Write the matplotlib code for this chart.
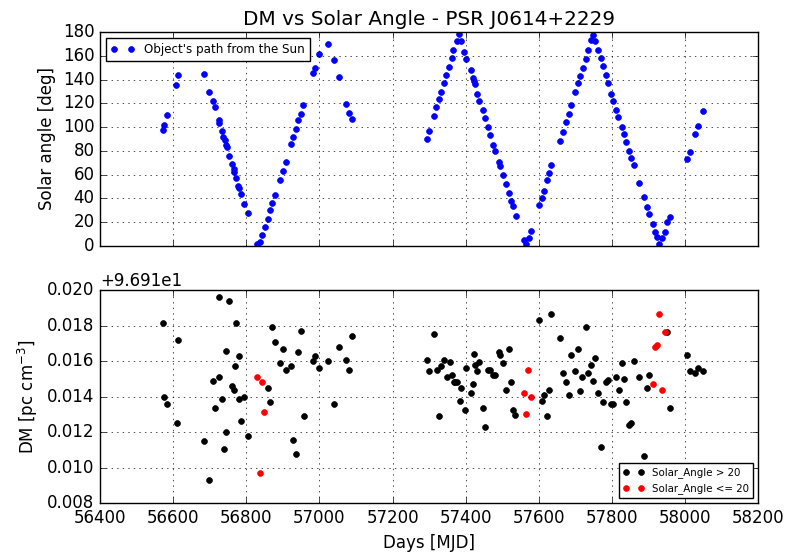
import matplotlib
matplotlib.use("Agg")
import matplotlib.pyplot as plt
from matplotlib.ticker import ScalarFormatter
import numpy as np

# Solar angle of the pulsar at each epoch
mjd_angle = [
    56571.5, 56574.0, 56582.5, 56608.0, 56614.0, 56684.5, 56699.0, 56708.0,
    56713.6, 56724.5, 56725.6, 56734.6, 56737.4, 56741.0, 56745.5, 56747.5,
    56753.8, 56761.2, 56765.8, 56767.5, 56772.0, 56778.4, 56780.3, 56785.8,
    56794.8, 56804.0, 56828.7, 56838.6, 56844.0, 56850.5, 56858.8, 56865.0,
    56870.6, 56879.6, 56893.3, 56900.0, 56908.0, 56921.7, 56928.0, 56937.0,
    56942.6, 56949.0, 56956.3, 56981.7, 56987.3, 56998.3, 57022.7, 57039.0,
    57054.0, 57074.0, 57082.0, 57088.6, 57294.7, 57300.0, 57312.0, 57320.0,
    57326.5, 57333.0, 57341.0, 57346.6, 57355.0, 57362.0, 57366.5, 57375.6,
    57382.0, 57388.4, 57395.8, 57402.0, 57414.0, 57419.5, 57423.0, 57426.0,
    57430.6, 57437.0, 57446.0, 57454.0, 57460.5, 57466.0, 57474.0, 57480.6,
    57489.6, 57494.4, 57500.7, 57510.0, 57518.0, 57523.5, 57529.0, 57537.0,
    57560.0, 57563.6, 57572.0, 57578.0, 57600.0, 57608.0, 57614.8, 57623.0,
    57627.5, 57633.0, 57658.6, 57665.0, 57673.0, 57681.0, 57687.7, 57698.5,
    57706.8, 57713.0, 57719.5, 57727.8, 57734.0, 57742.3, 57748.6, 57754.0,
    57762.5, 57769.0, 57774.4, 57782.7, 57789.0, 57796.0, 57802.5, 57811.8,
    57817.0, 57826.5, 57833.0, 57838.0, 57846.3, 57852.8, 57859.0, 57873.6,
    57888.3, 57896.6, 57902.0, 57911.0, 57916.7, 57923.0, 57928.6, 57937.6,
    57944.0, 57951.0, 57957.7, 58006.0, 58013.0, 58026.8, 58036.0, 58048.0,
]
solar_angle = [
    97.7, 101.6, 110.0, 135.6, 143.7, 144.8, 129.7, 122.2,
    116.6, 106.0, 103.8, 96.8, 91.8, 89.3, 85.1, 82.9,
    75.9, 68.9, 64.8, 61.9, 57.2, 50.5, 48.9, 43.8,
    34.9, 27.9, 1.7, 3.3, 9.2, 15.9, 22.6, 29.9,
    35.7, 42.4, 55.5, 62.8, 70.3, 85.4, 91.8, 98.5,
    105.8, 110.8, 118.3, 145.6, 149.5, 161.8, 170.2, 156.2,
    142.3, 119.7, 111.6, 106.6, 90.1, 96.6, 109.4, 116.6,
    123.8, 129.7, 137.2, 143.7, 150.9, 158.7, 165.2, 172.7,
    178.2, 172.7, 163.5, 157.6, 148.4, 141.4, 139.2, 136.4,
    128.0, 122.2, 114.1, 107.4, 100.2, 93.5, 85.1, 80.1,
    70.9, 66.9, 59.7, 51.9, 44.1, 37.4, 33.2, 25.1,
    4.5, 1.4, 6.2, 12.6, 34.0, 40.0, 46.4, 55.2,
    61.1, 67.8, 88.5, 96.0, 104.1, 110.8, 118.8, 129.7,
    137.2, 142.8, 149.5, 157.7, 165.2, 173.6, 178.0, 172.7,
    165.2, 158.7, 151.8, 143.7, 137.2, 128.0, 122.2, 114.1,
    108.5, 100.2, 94.3, 87.6, 80.1, 73.6, 67.8, 53.1,
    40.8, 32.4, 26.5, 18.4, 11.5, 7.5, 1.2, 6.2,
    11.2, 20.1, 24.3, 72.8, 78.7, 94.3, 101.0, 113.3,
]

# DM measurements with solar angle > 20 deg
mjd_far = [
    56571.5, 56574.0, 56582.5, 56609.8, 56614.0, 56684.5, 56699.0, 56708.0,
    56713.6, 56724.5, 56725.6, 56734.6, 56740.0, 56744.7, 56745.6, 56753.8,
    56760.0, 56765.8, 56768.5, 56772.0, 56779.4, 56780.3, 56786.6, 56794.8,
    56804.0, 56858.8, 56865.0, 56870.6, 56879.6, 56893.3, 56900.0, 56908.0,
    56922.6, 56928.9, 56937.0, 56942.6, 56949.0, 56958.0, 56983.7, 56987.3,
    56998.3, 57022.7, 57039.0, 57054.0, 57074.0, 57082.0, 57088.6, 57294.7,
    57300.0, 57313.0, 57321.0, 57326.5, 57333.0, 57341.0, 57347.5, 57355.7,
    57363.0, 57367.8, 57371.0, 57376.8, 57383.0, 57388.4, 57396.7, 57402.0,
    57414.0, 57419.5, 57423.0, 57426.0, 57431.5, 57437.0, 57447.0, 57454.0,
    57460.5, 57466.0, 57474.0, 57480.6, 57489.6, 57495.0, 57500.7, 57511.0,
    57518.0, 57524.5, 57529.0, 57536.0, 57600.0, 57608.0, 57614.8, 57623.0,
    57627.5, 57633.0, 57658.6, 57665.0, 57673.0, 57681.0, 57687.7, 57698.5,
    57706.8, 57713.0, 57718.7, 57727.8, 57734.0, 57742.3, 57748.6, 57754.0,
    57762.5, 57769.0, 57774.4, 57782.7, 57789.0, 57796.0, 57802.5, 57811.8,
    57819.0, 57826.5, 57833.0, 57838.0, 57846.3, 57851.8, 57859.0, 57873.6,
    57888.3, 57896.6, 57902.0, 57951.0, 57957.7, 58006.0, 58013.0, 58026.8,
    58036.0, 58048.0,
]
dm_far = [
    96.92813, 96.92398, 96.92361, 96.92250, 96.92720, 96.92149, 96.91929, 96.92488,
    96.92338, 96.92963, 96.92508, 96.92389, 96.92103, 96.92658, 96.92200, 96.92940,
    96.92460, 96.92438, 96.92570, 96.92813, 96.92389, 96.92630, 96.92262, 96.92398,
    96.92180, 96.92449, 96.92372, 96.92793, 96.92708, 96.92591, 96.92669, 96.92550,
    96.92570, 96.92155, 96.92080, 96.92654, 96.92770, 96.92290, 96.92598, 96.92630,
    96.92561, 96.92598, 96.92361, 96.92680, 96.92607, 96.92550, 96.92742, 96.92607,
    96.92544, 96.92753, 96.92550, 96.92290, 96.92570, 96.92609, 96.92510, 96.92595,
    96.92520, 96.92484, 96.92484, 96.92482, 96.92376, 96.92447, 96.92327, 96.92559,
    96.92421, 96.92471, 96.92641, 96.92581, 96.92542, 96.92595, 96.92338, 96.92228,
    96.92550, 96.92550, 96.92522, 96.92520, 96.92654, 96.92632, 96.92592, 96.92438,
    96.92669, 96.92482, 96.92327, 96.92299, 96.92832, 96.92376, 96.92410, 96.92290,
    96.92439, 96.92865, 96.92731, 96.92533, 96.92482, 96.92410, 96.92632, 96.92544,
    96.92669, 96.92432, 96.92508, 96.92791, 96.92531, 96.92581, 96.92488, 96.92619,
    96.92419, 96.92118, 96.92372, 96.92482, 96.92495, 96.92361, 96.92361, 96.92510,
    96.92439, 96.92592, 96.92499, 96.92372, 96.92241, 96.92250, 96.92598, 96.92508,
    96.92069, 96.92449, 96.92520, 96.92763, 96.92338, 96.92632, 96.92542, 96.92531,
    96.92559, 96.92544,
]

# DM measurements with solar angle <= 20 deg
mjd_near = [
    56829.5, 56838.6, 56844.0, 56849.6, 57559.0, 57565.5, 57571.0, 57579.0,
    57911.0, 57917.4, 57922.0, 57927.5, 57937.6, 57944.0,
]
dm_near = [
    96.92508, 96.91968, 96.92482, 96.92312, 96.92422, 96.92301, 96.92550, 96.92400,
    96.92471, 96.92682, 96.92692, 96.92864, 96.92439, 96.92763,
]

plt.style.use("classic")
plt.rcParams["mathtext.fontset"] = "dejavusans"
plt.rcParams["mathtext.default"] = "regular"
plt.rcParams["font.family"] = ["DejaVu Sans"]

fig = plt.figure(figsize=(7.86, 5.55), dpi=100, facecolor="white")
ax1 = fig.add_axes([0.1272, 0.5573, 0.8376, 0.3846])
ax2 = fig.add_axes([0.1272, 0.0931, 0.8376, 0.3843])

ax1.plot(mjd_angle, solar_angle, "o", color="b", mec="b", ms=4.2,
         label="Object's path from the Sun")
ax1.set_xlim(56400, 58200)
ax1.set_ylim(0, 180)
ax1.set_yticks(np.arange(0, 181, 20))
ax1.set_xticks(np.arange(56400, 58201, 200))
ax1.tick_params(labelbottom=False)
ax1.set_ylabel("Solar angle [deg]")
ax1.set_title("DM vs Solar Angle - PSR J0614+2229", fontsize=14.4)
ax1.grid(True)
ax1.legend(loc="upper left", fontsize=8.6, numpoints=2)

ax2.plot(mjd_far, dm_far, "o", color="k", mec="k", ms=4.2,
         label="Solar_Angle > 20")
ax2.plot(mjd_near, dm_near, "o", color="r", mec="r", ms=4.2,
         label="Solar_Angle <= 20")
ax2.set_xlim(56400, 58200)
ax2.set_xticks(np.arange(56400, 58201, 200))
ax2.set_ylim(96.918, 96.930)
ax2.yaxis.set_major_formatter(ScalarFormatter(useOffset=96.91))
ax2.set_yticks(96.91 + np.arange(0.008, 0.0201, 0.002))
ax2.set_ylabel(r"DM [pc cm$^{-3}$]")
ax2.set_xlabel("Days [MJD]")
ax2.grid(True)
ax2.legend(loc="lower right", fontsize=7.4, numpoints=2)

fig.savefig("out.png", dpi=100, facecolor="white")
